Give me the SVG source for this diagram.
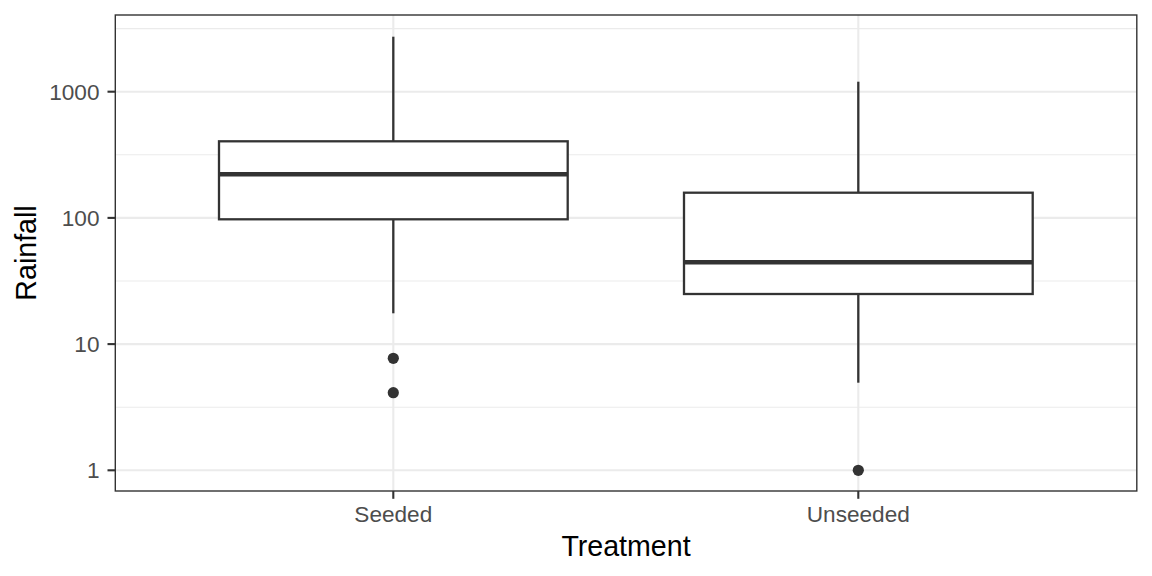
<svg xmlns="http://www.w3.org/2000/svg" width="1152" height="576" viewBox="0 0 1152 576">
<style>
.bg{fill:#FFFFFF}
.gmaj{stroke:#EBEBEB;stroke-width:2.1;fill:none}
.gmin{stroke:#EBEBEB;stroke-width:1.05;fill:none}
.border{stroke:#333333;stroke-width:1.4;fill:none}
.tick{stroke:#333333;stroke-width:2.1;fill:none}
.box{stroke:#333333;stroke-width:2.3;fill:#FFFFFF}
.wh{stroke:#333333;stroke-width:2.3;fill:none}
.med{stroke:#333333;stroke-width:4.5;fill:none}
.out{fill:#333333}
.tl{font-family:"Liberation Sans",Arial,sans-serif;font-size:22.6px;fill:#4D4D4D}
.at{font-family:"Liberation Sans",Arial,sans-serif;font-size:28.6px;fill:#000000}
</style>
<rect class="bg" x="0" y="0" width="1152" height="576"/>
<g id="grid">
<line class="gmin" x1="115.3" y1="28.6" x2="1136.8" y2="28.6"/>
<line class="gmin" x1="115.3" y1="154.8" x2="1136.8" y2="154.8"/>
<line class="gmin" x1="115.3" y1="281" x2="1136.8" y2="281"/>
<line class="gmin" x1="115.3" y1="407.2" x2="1136.8" y2="407.2"/>
<line class="gmaj" x1="115.3" y1="91.7" x2="1136.8" y2="91.7"/>
<line class="gmaj" x1="115.3" y1="217.9" x2="1136.8" y2="217.9"/>
<line class="gmaj" x1="115.3" y1="344.1" x2="1136.8" y2="344.1"/>
<line class="gmaj" x1="115.3" y1="470.3" x2="1136.8" y2="470.3"/>
<line class="gmaj" x1="393.3" y1="15" x2="393.3" y2="491"/>
<line class="gmaj" x1="858.3" y1="15" x2="858.3" y2="491"/>
</g>
<g id="seeded">
<line class="wh" x1="393.3" y1="36.7" x2="393.3" y2="141.3"/>
<line class="wh" x1="393.3" y1="219.3" x2="393.3" y2="313.3"/>
<rect class="box" x="219" y="141.3" width="348.7" height="78"/>
<line class="med" x1="219" y1="174.3" x2="567.7" y2="174.3"/>
<circle class="out" cx="393.3" cy="358.3" r="5.6"/>
<circle class="out" cx="393.3" cy="392.7" r="5.6"/>
</g>
<g id="unseeded">
<line class="wh" x1="858.3" y1="81.7" x2="858.3" y2="192.7"/>
<line class="wh" x1="858.3" y1="294" x2="858.3" y2="382.7"/>
<rect class="box" x="684" y="192.7" width="348.7" height="101.3"/>
<line class="med" x1="684" y1="262.3" x2="1032.7" y2="262.3"/>
<circle class="out" cx="858.3" cy="470.3" r="5.6"/>
</g>
<g id="connectors"></g>
<rect class="border" x="115.3" y="15" width="1021.5" height="476"/>
<g id="axes">
<line class="tick" x1="107.5" y1="91.7" x2="115.3" y2="91.7"/>
<line class="tick" x1="107.5" y1="217.9" x2="115.3" y2="217.9"/>
<line class="tick" x1="107.5" y1="344.1" x2="115.3" y2="344.1"/>
<line class="tick" x1="107.5" y1="470.3" x2="115.3" y2="470.3"/>
<line class="tick" x1="393.3" y1="491" x2="393.3" y2="498.8"/>
<line class="tick" x1="858.3" y1="491" x2="858.3" y2="498.8"/>
<text class="tl" x="99.5" y="99.8" text-anchor="end">1000</text>
<text class="tl" x="99.5" y="226" text-anchor="end">100</text>
<text class="tl" x="99.5" y="352.2" text-anchor="end">10</text>
<text class="tl" x="99.5" y="478.4" text-anchor="end">1</text>
<text class="tl" x="393.3" y="522.3" text-anchor="middle">Seeded</text>
<text class="tl" x="858.3" y="522.3" text-anchor="middle">Unseeded</text>
<text class="at" x="626" y="556" text-anchor="middle">Treatment</text>
<text class="at" x="36" y="253" text-anchor="middle" transform="rotate(-90 36 253)">Rainfall</text>
</g>
</svg>
